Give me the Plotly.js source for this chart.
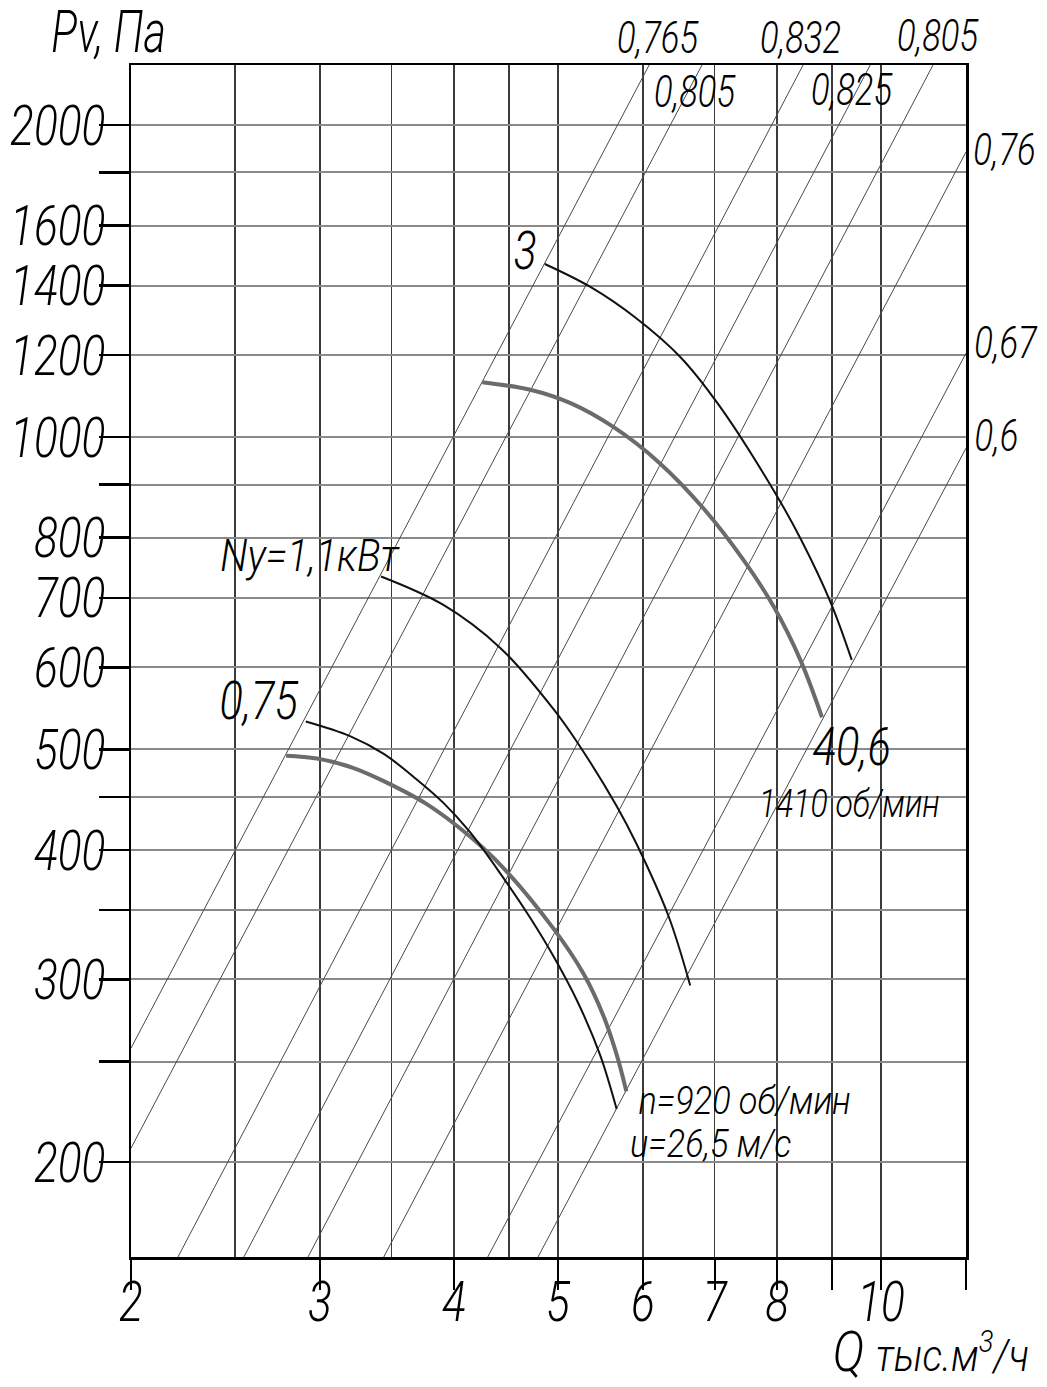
<!DOCTYPE html>
<html>
<head>
<meta charset="utf-8">
<script src="https://cdn.plot.ly/plotly-3.0.1.min.js"></script>
<style>html,body{margin:0;padding:0;background:#fff;}#chart{width:1047px;height:1387px;}</style>
</head>
<body>
<div id="chart"></div>
<script>
// ---- data ----
// fan curve, n = 920 rpm, thin line (0,75 kW)
const qThin075 = [2.91, 3.20, 3.44, 3.69, 3.91, 4.14, 4.43, 4.71, 4.95, 5.21, 5.47, 5.67];
const pThin075 = [532, 515, 495, 468, 444, 416, 378, 344, 316, 286, 254, 225];
// fan curve, n = 920 rpm, thick grey line
const qThick920 = [2.79, 2.98, 3.22, 3.44, 3.77, 4.14, 4.45, 4.95, 5.28, 5.51, 5.67, 5.79];
const pThick920 = [493, 490, 480, 466, 443, 412, 384, 336, 304, 277, 254, 234];
// fan curve Ny = 1,1 kW
const qNy11 = [3.42, 3.91, 4.42, 4.95, 5.21, 5.67, 5.92, 6.34, 6.64];
const pNy11 = [734, 689, 626, 547, 508, 441, 405, 345, 296];
// fan curve, 3 kW
const qThin3 = [4.86, 5.36, 5.91, 6.50, 7.07, 7.94, 8.41, 8.98, 9.39];
const pThin3 = [1469, 1396, 1303, 1195, 1072, 889, 799, 692, 610];
// fan curve, n = 1410 rpm, thick grey line
const qThick1410 = [4.25, 4.71, 5.13, 5.63, 6.22, 6.83, 7.44, 7.94, 8.41, 8.81];
const pThick1410 = [1130, 1111, 1079, 1023, 944, 854, 762, 687, 610, 537];

// efficiency rays (start and end points)
const effStartQ = [2.0, 2.0, 2.212, 2.548, 2.924, 3.44, 4.30, 4.79];
const effStartP = [257.6, 206.3, 162, 162, 162, 162, 162, 162];
const effEndQ   = [6.08, 6.81, 8.46, 9.77, 11.18, 12, 12, 12];
const effEndP   = [2285, 2285, 2285, 2285, 2285, 1884, 1205, 976];
const effLabels = ['0,765', '0,805', '0,832', '0,825', '0,805', '0,76', '0,67', '0,6'];

// axis ticks
const xTickVals = [2, 3, 4, 5, 6, 7, 8, 9, 10, 12];
const xTickText = ['2', '3', '4', '5', '6', '7', '8', '', '10', ''];
const xGridMinor = [2.5, 3.5, 4.5];
const yTickVals = [200, 250, 300, 350, 400, 450, 500, 600, 700, 800, 900, 1000, 1200, 1400, 1600, 1800, 2000];
const yTickText = ['200', '', '300', '', '400', '', '500', '600', '700', '800', '', '1000', '1200', '1400', '1600', '', '2000'];

// ---- drawing ----
const FONT = 'Roboto, Liberation Sans, DejaVu Sans, sans-serif';
const L = 131, T = 65, W = 835, H = 1192;
function px2paper(px, py) { return [(px - L) / W, (T + H - py) / H]; }

const traces = [];
for (let i = 0; i < effStartQ.length; i++) {
  traces.push({
    x: [effStartQ[i], effEndQ[i]], y: [effStartP[i], effEndP[i]],
    mode: 'lines', line: {color: '#4a4a4a', width: 1}, hoverinfo: 'skip', showlegend: false
  });
}
function curve(q, p, color, width) {
  return {x: q, y: p, mode: 'lines', line: {color: color, width: width, shape: 'spline', smoothing: 1}, showlegend: false};
}
traces.push(curve(qThick920, pThick920, '#6b6b6b', 4));
traces.push(curve(qThin075, pThin075, '#111', 2));
traces.push(curve(qNy11, pNy11, '#111', 2));
traces.push(curve(qThick1410, pThick1410, '#6b6b6b', 4));
traces.push(curve(qThin3, pThin3, '#111', 2));

// label positions in pixels
const effLabelPos = [[658, 37], [695, 91], [800, 38], [852, 90], [938, 36], [1005, 150], [1006, 343], [996, 435]];
const annotations = [];
const annScale = [];
function ann(text, px, py, size, sx) {
  const p = px2paper(px, py);
  annotations.push({text: text, x: p[0], y: p[1], xref: 'paper', yref: 'paper', showarrow: false,
    xanchor: 'center', yanchor: 'middle',
    font: {family: FONT, size: size, color: '#000', style: 'italic', weight: 300}});
  annScale.push(sx);
}
effLabels.forEach((t, i) => ann(t, effLabelPos[i][0], effLabelPos[i][1], 45, 0.77));
ann('Pv, Па', 108, 31, 60, 0.72);
ann('3', 525, 251, 53, 0.8);
ann('Ny=1,1кВт', 310, 555, 45, 0.88);
ann('0,75', 259, 701, 53, 0.82);
ann('40,6', 851, 747, 53, 0.82);
ann('1410 об/мин', 849, 804, 39, 0.82);
ann('n=920 об/мин', 744, 1101, 39, 0.88);
ann('u=26,5 м/с', 711, 1144, 39, 0.88);
ann('Q <span style="font-size:45px">тыс.м<sup>3</sup>/ч</span>', 931, 1352, 55, 0.87);

const axisCommon = {
  type: 'log', showline: true, mirror: true, linecolor: '#000', linewidth: 2.5,
  ticks: 'outside', ticklen: 30, tickwidth: 2.5, tickcolor: '#000',
  tickmode: 'array', showgrid: true, zeroline: false,
  tickfont: {family: FONT, size: 56, color: '#000', style: 'italic', weight: 300}
};

const layout = {
  width: 1047, height: 1387,
  margin: {l: L, r: 1047 - L - W, t: T, b: 1387 - T - H},
  paper_bgcolor: '#fff', plot_bgcolor: '#fff',
  showlegend: false,
  xaxis: Object.assign({}, axisCommon, {
    range: [Math.log10(2), Math.log10(12)],
    tickvals: xTickVals, ticktext: xTickText,
    gridcolor: '#3a3a3a', gridwidth: 1.2,
    ticklabelstandoff: -36,
    minor: {tickmode: 'array', tickvals: xGridMinor, ticks: '', showgrid: true, gridcolor: '#3a3a3a', gridwidth: 1.2}
  }),
  yaxis: Object.assign({}, axisCommon, {
    range: [Math.log10(162), Math.log10(2285)],
    tickvals: yTickVals, ticktext: yTickText,
    gridcolor: '#8a8a8a', gridwidth: 2,
    ticklabelstandoff: -18
  }),
  annotations: annotations
};

// narrow the lettering horizontally, like the drafting font of the original
function squeeze(el, s) {
  const x = parseFloat(el.getAttribute('x')) || 0;
  const prev = el.getAttribute('transform') || '';
  el.setAttribute('transform', prev + ' translate(' + x + ',0) scale(' + s + ',1) translate(' + (-x) + ',0)');
}

Plotly.newPlot('chart', traces, layout, {staticPlot: true, displayModeBar: false}).then(function (gd) {
  gd.querySelectorAll('g.xtick text, g.ytick text').forEach(function (el) { squeeze(el, 0.79); });
  gd.querySelectorAll('g.annotation').forEach(function (g) {
    const idx = parseInt(g.getAttribute('data-index'), 10);
    const s = annScale[idx] || 0.8;
    g.querySelectorAll('text').forEach(function (el) { squeeze(el, s); });
  });
});
</script>
</body>
</html>
